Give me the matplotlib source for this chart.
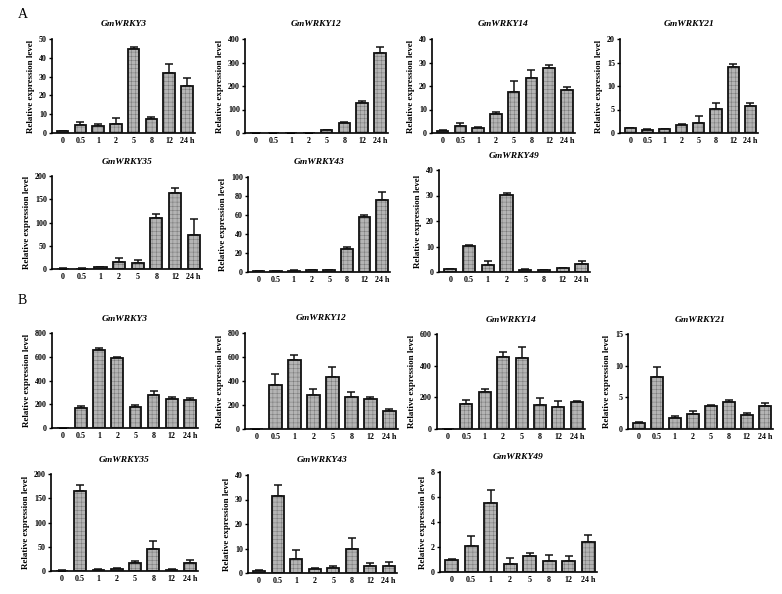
import matplotlib.pyplot as plt
import numpy as np

plt.rcParams['font.family'] = ['Liberation Serif', 'DejaVu Serif']
plt.rcParams['font.weight'] = 'bold'
plt.rcParams['hatch.linewidth'] = 0.3

# time points (h)
times = ['0', '0.5', '1', '2', '5', '8', '12', '24 h']

# panel A: mean and upper error bar tops
a_wrky3 = [1.0, 4.0, 3.7, 4.8, 44.5, 7.5, 31.8, 25.2]
a_wrky3_top = [1.3, 5.8, 4.9, 8.0, 46.0, 8.6, 36.6, 29.5]
a_wrky12 = [1.0, 1.0, 1.0, 1.0, 11, 43, 126, 340]
a_wrky12_top = [1.5, 1.5, 1.5, 1.5, 14, 48, 136, 368]
a_wrky14 = [1.0, 2.9, 2.0, 8.0, 17.4, 23.6, 27.6, 18.3]
a_wrky14_top = [1.2, 4.3, 2.6, 8.9, 22.3, 26.7, 29.1, 19.4]
a_wrky21 = [1.0, 0.7, 0.8, 1.7, 2.2, 5.1, 14.1, 5.7]
a_wrky21_top = [1.05, 0.9, 0.85, 1.85, 3.6, 6.4, 14.6, 6.4]
a_wrky35 = [1.0, 1.0, 3.5, 16, 12, 109, 163, 72.5]
a_wrky35_top = [1.3, 1.3, 4.5, 24, 19, 119, 175, 107.5]
a_wrky43 = [0.8, 0.6, 1.5, 2.0, 1.7, 24.7, 58, 75.3]
a_wrky43_top = [1.0, 0.8, 2.0, 2.5, 2.6, 25.8, 59.7, 83.7]
a_wrky49 = [1.0, 10.1, 2.8, 30.1, 0.9, 0.6, 1.4, 3.2]
a_wrky49_top = [1.1, 10.6, 4.5, 30.9, 1.3, 0.7, 1.7, 4.3]

# panel B
b_wrky3 = [1.0, 167, 655, 588, 178, 279, 242, 234]
b_wrky3_top = [2.0, 189, 677, 599, 192, 315, 262, 251]
b_wrky12 = [1.0, 364, 572, 283, 436, 267, 253, 147]
b_wrky12_top = [2.0, 461, 617, 333, 519, 306, 264, 164]
b_wrky14 = [2.0, 160, 233, 452, 450, 154, 141, 172]
b_wrky14_top = [3.0, 181, 254, 485, 521, 198, 179, 179]
b_wrky21 = [1.0, 8.2, 1.8, 2.3, 3.6, 4.2, 2.15, 3.6]
b_wrky21_top = [1.05, 9.85, 2.0, 2.9, 3.8, 4.6, 2.5, 4.1]
b_wrky35 = [1.0, 165, 3.0, 5.0, 16, 46, 3.0, 16.5]
b_wrky35_top = [1.3, 177, 4.0, 6.0, 21, 62, 4.0, 22.6]
b_wrky43 = [1.0, 31.6, 5.6, 1.5, 1.9, 10.0, 3.0, 3.0]
b_wrky43_top = [1.1, 35.8, 9.3, 2.2, 2.7, 14.1, 4.2, 4.4]
b_wrky49 = [1.0, 2.07, 5.54, 0.66, 1.25, 0.9, 0.87, 2.44]
b_wrky49_top = [1.02, 2.9, 6.54, 1.09, 1.54, 1.4, 1.25, 2.97]

W, H = 782, 594
fig = plt.figure(figsize=(W / 100, H / 100), dpi=100)


def rect(l, r, top, zero):
    return [l / W, 1 - zero / H, (r - l) / W, (zero - top) / H]


def panel(box, title, vals, tops, ymax, step):
    ax = fig.add_axes(rect(*box))
    x = np.arange(len(times))
    vals = np.array(vals, dtype=float)
    err = np.array(tops, dtype=float) - vals
    # textured grey fill, then a black outline on top
    ax.bar(x, vals, 0.65, color='#b4b4b4', edgecolor='#6e6e6e', hatch='++++',
           linewidth=0, zorder=2)
    ax.bar(x, vals, 0.65, color='none', edgecolor='#111111', linewidth=1.3, zorder=3)
    ax.errorbar(x, vals, yerr=[np.zeros_like(err), err], fmt='none', ecolor='#111111',
                elinewidth=1.1, capsize=3, capthick=1.1, zorder=1)
    ax.set_xlim(-0.6, 7.45)
    ax.set_ylim(0, ymax)
    ax.set_yticks(np.arange(0, ymax + step / 2, step))
    ax.set_xticks(x)
    ax.set_xticklabels(times)
    for s in ['top', 'right']:
        ax.spines[s].set_visible(False)
    for s in ['left', 'bottom']:
        ax.spines[s].set_linewidth(1.2)
    ax.tick_params(axis='y', length=2.5, width=1, pad=1, labelsize=5.8)
    ax.tick_params(axis='x', length=0, pad=3, labelsize=5.8)
    ax.set_ylabel('Relative expression level', fontsize=6.5, fontweight='bold', labelpad=3)
    ax.set_title(title, fontsize=6.8, fontweight='bold', style='italic', pad=9)
    return ax


panel((52, 195, 39, 133), 'GmWRKY3', a_wrky3, a_wrky3_top, 50, 10)
panel((245, 388, 39, 133), 'GmWRKY12', a_wrky12, a_wrky12_top, 400, 100)
panel((432, 575, 39, 133), 'GmWRKY14', a_wrky14, a_wrky14_top, 40, 10)
panel((620, 758, 39, 133), 'GmWRKY21', a_wrky21, a_wrky21_top, 20, 5)
panel((52, 202, 176, 269), 'GmWRKY35', a_wrky35, a_wrky35_top, 200, 50)
panel((248, 390, 177, 272), 'GmWRKY43', a_wrky43, a_wrky43_top, 100, 20)
panel((439, 590, 170, 272), 'GmWRKY49', a_wrky49, a_wrky49_top, 40, 10)

panel((52, 198, 333, 428), 'GmWRKY3', b_wrky3, b_wrky3_top, 800, 200)
panel((245, 398, 333, 429), 'GmWRKY12', b_wrky12, b_wrky12_top, 800, 200)
panel((437, 585, 334, 429), 'GmWRKY14', b_wrky14, b_wrky14_top, 600, 200)
panel((628, 773, 334, 429), 'GmWRKY21', b_wrky21, b_wrky21_top, 15, 5)
panel((51, 198, 474, 571), 'GmWRKY35', b_wrky35, b_wrky35_top, 200, 50)
panel((248, 397, 475, 573), 'GmWRKY43', b_wrky43, b_wrky43_top, 40, 10)
panel((440, 597, 472, 572), 'GmWRKY49', b_wrky49, b_wrky49_top, 8, 2)

fig.text(18 / W, 1 - 15 / H, 'A', fontsize=10, fontweight='normal', va='center')
fig.text(18 / W, 1 - 301 / H, 'B', fontsize=10, fontweight='normal', va='center')

fig.savefig('out.png', dpi=100, facecolor='white')
